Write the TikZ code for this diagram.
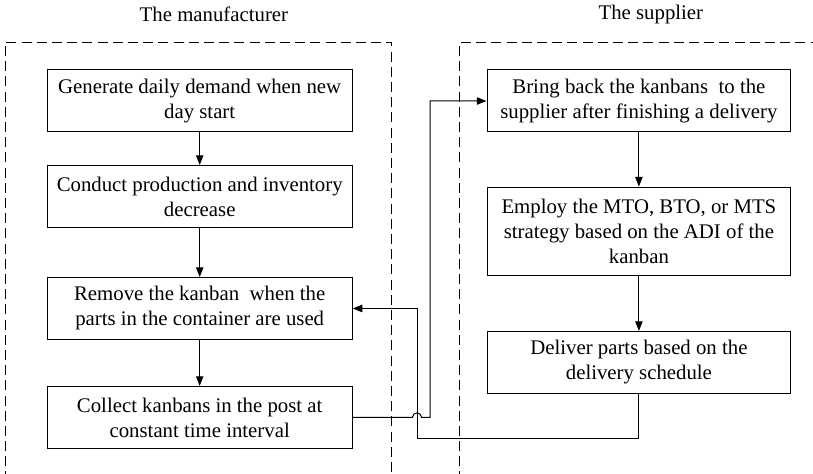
\documentclass[tikz,border=0pt]{standalone}
\usepackage{fontspec}
\setmainfont{Liberation Serif}
\usetikzlibrary{arrows.meta}

\begin{document}
\begin{tikzpicture}[font=\fontsize{10.4}{12.5}\selectfont,
  >={Triangle[length=1.7mm, width=1.3mm]},
  proc/.style={draw, rectangle, line width=0.5pt, align=center, inner sep=2pt},
  lproc/.style={proc, minimum width=5.36cm, minimum height=1.09cm},
  rproc/.style={proc, minimum width=5.34cm, minimum height=1.09cm},
  arr/.style={->, line width=0.5pt},
  grp/.style={draw, line width=0.5pt, dash pattern=on 5pt off 2.6pt}]
  \useasboundingbox (0,0) rectangle (14.29,8.33);

  % the two sides
  \draw[grp] (0.09,-0.4) rectangle (6.89,7.59);
  \draw[grp] (8.08,-0.4) rectangle (14.6,7.59);
  \node (Man) at (3.76,8.08) {The manufacturer};
  \node (Sup) at (11.44,8.08) {The supplier};

  % manufacturer steps
  \node[lproc] (Dem) at (3.51,6.555) {Generate daily demand when new\\day start};
  \node[lproc] (Prod) at (3.51,4.877) {Conduct production and inventory\\decrease};
  \node[lproc] (Rem) at (3.51,2.908) {Remove the kanban\ \ when the\\parts in the container are used};
  \node[lproc] (Col) at (3.51,0.993) {Collect kanbans in the post at\\constant time interval};

  % supplier steps
  \node[rproc] (Back) at (11.23,6.555) {Bring back the kanbans\ \ to the\\supplier after finishing a delivery};
  \node[rproc, minimum height=1.56cm] (Str) at (11.23,4.261) {Employ the MTO, BTO, or MTS\\strategy based on the ADI of the\\kanban};
  \node[rproc] (Del) at (11.23,1.959) {Deliver parts based on the\\delivery schedule};

  \draw[arr] (Dem) -- (Prod);
  \draw[arr] (Prod) -- (Rem);
  \draw[arr] (Rem) -- (Col);
  \draw[arr] (Back) -- (Str);
  \draw[arr] (Str) -- (Del);

  % kanban loop between the sides
  \coordinate (hop) at (7.33,0.993);
  \draw[arr] (Col.east) -- ([xshift=-0.08cm]hop) arc (180:0:0.08) -- (7.56,0.993) |- (Back.west);
  \draw[arr] (Del.south) |- (7.33,0.615) |- (Rem.east);
\end{tikzpicture}
\end{document}
